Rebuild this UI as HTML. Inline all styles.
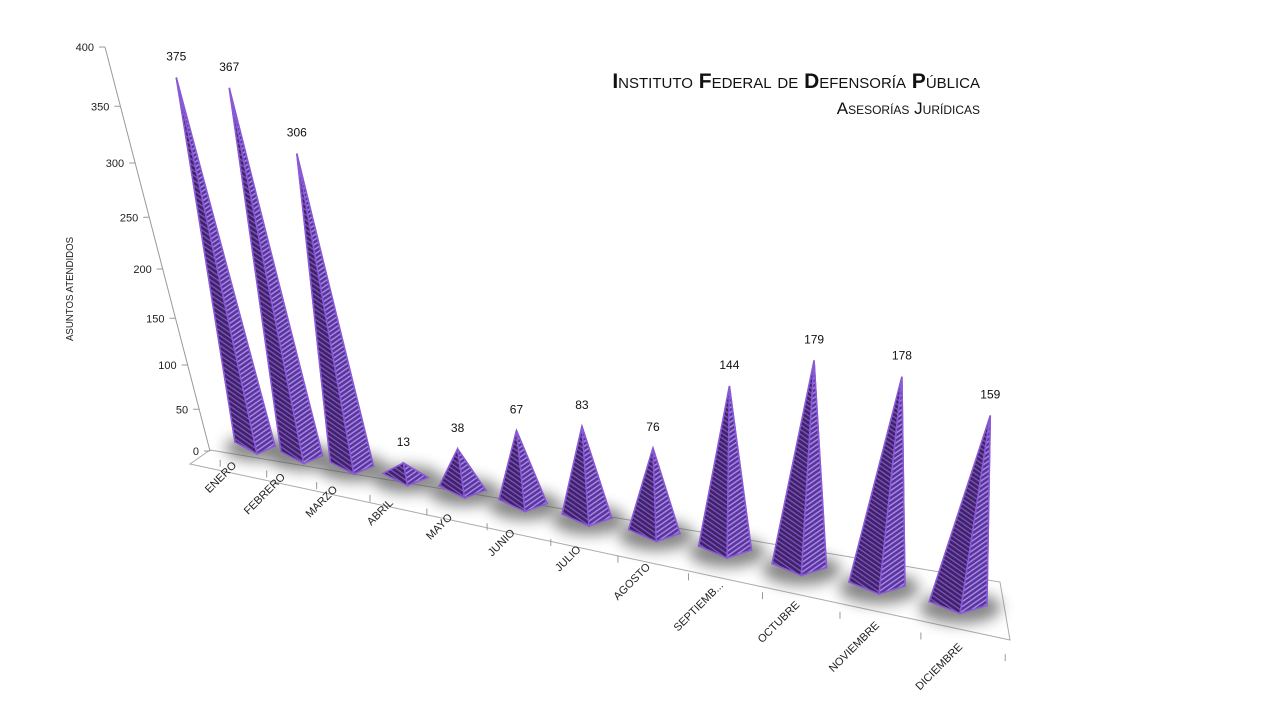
<!DOCTYPE html>
<html><head><meta charset="utf-8">
<style>
html,body{margin:0;padding:0;background:#fff;}
svg{display:block;font-family:"Liberation Sans",sans-serif;}
</style></head>
<body>
<svg id="chart" width="1280" height="720" viewBox="0 0 1280 720" xmlns="http://www.w3.org/2000/svg">
<defs>
<filter id="blur" x="-50%" y="-50%" width="200%" height="200%"><feGaussianBlur stdDeviation="7"/></filter>
<pattern id="stripeL" width="4" height="4" patternUnits="userSpaceOnUse" patternTransform="rotate(35)">
<rect width="4" height="4" fill="#3f2268"/><rect width="4" height="1.3" fill="#7d55c0"/></pattern>
<pattern id="stripeR" width="4" height="4" patternUnits="userSpaceOnUse" patternTransform="rotate(-35)">
<rect width="4" height="4" fill="#5a34a0"/><rect width="4" height="1.5" fill="#a488dc"/></pattern>
</defs>
<g id="floor"></g>
<g id="shadows"></g>
<g id="axis"></g>
<g id="marks"></g>
<g id="labels"></g>
<text transform="translate(73,289) rotate(-90)" text-anchor="middle" font-size="10.5" fill="#222" textLength="104" lengthAdjust="spacingAndGlyphs">ASUNTOS ATENDIDOS</text>
<text x="980" y="88" text-anchor="end" font-size="21" fill="#111" style="font-variant:small-caps"><tspan font-weight="bold">I</tspan>nstituto <tspan font-weight="bold">F</tspan>ederal de <tspan font-weight="bold">D</tspan>efensoría <tspan font-weight="bold">P</tspan>ública</text>
<text x="980" y="114" text-anchor="end" font-size="17" fill="#111" style="font-variant:small-caps">Asesorías Jurídicas</text>
</svg>
<script>
const categories = ["ENERO","FEBRERO","MARZO","ABRIL","MAYO","JUNIO","JULIO","AGOSTO","SEPTIEMB...","OCTUBRE","NOVIEMBRE","DICIEMBRE"];
const values = [375,367,306,13,38,67,83,76,144,179,178,159];
const yTicks = [0,50,100,150,200,250,300,350,400];

const NS="http://www.w3.org/2000/svg";
function mk(tag,attrs,parent){const e=document.createElementNS(NS,tag);for(const k in attrs)e.setAttribute(k,attrs[k]);parent.appendChild(e);return e;}
// axis functions
function baseX(i){return 255+45*i+1.72*i*i;}
function baseY(i){return 445+9*i+0.5*i*i;}
function upScale(i){return 0.98+0.019*i;}
function upDx(i){return -0.21+0.01*i+0.0025*i*i;}
function apex(i,v){return [baseX(i)+upDx(i)*v, baseY(i)-upScale(i)*v];}
function axisY(v){return 451-v*0.81*(1+0.000617*v);}
function axisX(y){return 210-(451-y)*(105/404);}

// floor
const fl=document.getElementById('floor');
const bl=[210,450], br=[1000,582], fr=[1010,640], flc=[190,464];
const fp=mk('polygon',{points:[bl,br,fr,flc].map(p=>p.join(',')).join(' '),fill:'none',stroke:'#aaa','stroke-width':1},fl);


for(let i=0;i<=categories.length;i++){
  const xi=i-0.5;
  const x=baseX(xi)-12+1.5*xi, y=baseY(xi)+20+1.7*xi;
  const tk=mk('line',{x1:x,y1:y,x2:x,y2:y+7,stroke:'#999','stroke-width':1},fl);
  
  
}

// y axis
const ax=document.getElementById('axis');
const al=mk('line',{x1:axisX(axisY(400)),y1:axisY(400),x2:axisX(451),y2:451,stroke:'#999','stroke-width':1},ax);


yTicks.forEach(v=>{
  const y=axisY(v), x=axisX(y);
  const t=mk('line',{x1:x-6,y1:y,x2:x,y2:y,stroke:'#999'},ax);
  
  
  const l=mk('text',{x:x-11,y:y+4,'text-anchor':'end','font-size':11,fill:'#222'},ax);
  l.textContent=v;
  
  
});

// pyramids
const sh=document.getElementById('shadows'), mg=document.getElementById('marks'), lg=document.getElementById('labels');
values.forEach((v,i)=>{
  const bx=baseX(i), by=baseY(i), w=20+0.8*i;
  const s=mk('ellipse',{cx:bx+2,cy:by+3,rx:w+12,ry:13+0.3*i,fill:'#555',opacity:0.7,filter:'url(#blur)'},sh);
  
  
  const [ax_,ay]=apex(i,v);
  const L=[bx-w,by-3], F=[bx+2,by+9], R=[bx+w,by+1], Bk=[bx,by-8];
  const g=mk('g',{},mg);
  
  
  mk('polygon',{points:[[ax_,ay],L,Bk,R].map(p=>p.join(',')).join(' '),fill:'#6a40b0',stroke:'#8a5ad6','stroke-width':1.5},g);
  mk('polygon',{points:[[ax_,ay],L,F].map(p=>p.join(',')).join(' '),fill:'url(#stripeL)',stroke:'#8a5ad6','stroke-width':1.5},g);
  mk('polygon',{points:[[ax_,ay],F,R].map(p=>p.join(',')).join(' '),fill:'url(#stripeR)',stroke:'#8a5ad6','stroke-width':1.5},g);
  const vl=mk('text',{x:ax_,y:ay-17,'text-anchor':'middle','font-size':12,fill:'#111'},lg);
  vl.textContent=v;
  
  
  const t=i/11;
  const ex=bx-18+23*t, ey=by+21+22*t;
  const cl=mk('text',{x:ex,y:ey,'text-anchor':'end','font-size':11,fill:'#222',transform:`rotate(-45 ${ex} ${ey})`},lg);
  cl.textContent=categories[i];
  
  
});
</script>
</body></html>
